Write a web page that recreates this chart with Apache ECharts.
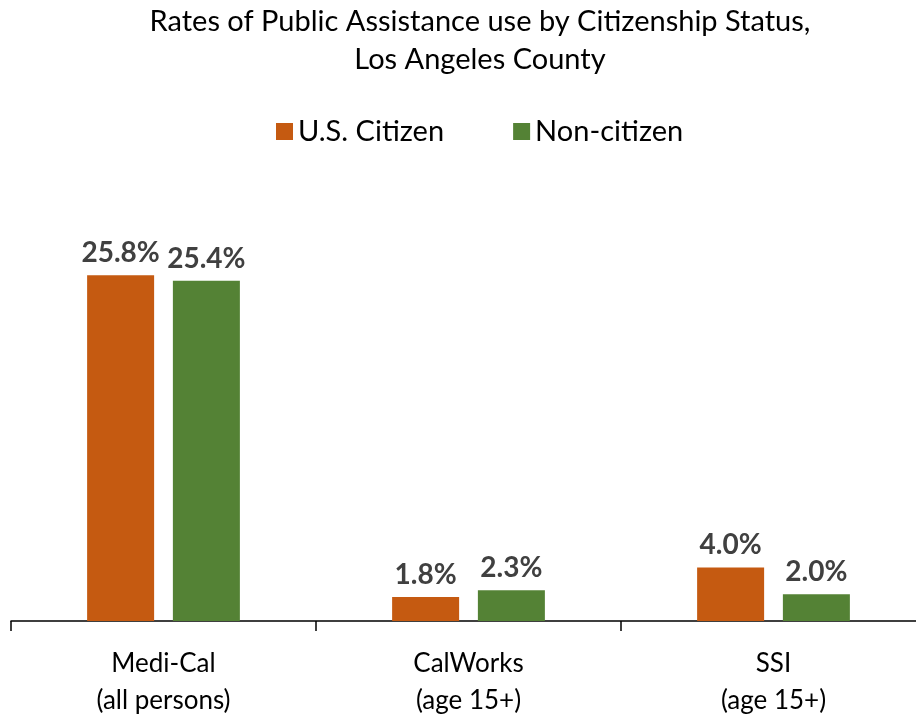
<!DOCTYPE html>
<html><head><meta charset="utf-8">
<script src="https://cdn.jsdelivr.net/npm/echarts@6/dist/echarts.min.js"></script>
<style>html,body{margin:0;padding:0;background:#fff}#c{width:916px;height:721px}</style>
</head><body><div id="c"></div>
<script>
const categories = ['Medi-Cal\n(all persons)', 'CalWorks\n(age 15+)', 'SSI\n(age 15+)'];
const citizen = [25.8, 1.8, 4.0];
const nonCitizen = [25.4, 2.3, 2.0];
const seriesNames = ['U.S. Citizen', 'Non-citizen'];
const FONT = 'Lato, "Open Sans", sans-serif';
const chart = echarts.init(document.getElementById('c'));
const label = {show:true, position:'top', distance:8, fontFamily:FONT, fontWeight:'bold', fontSize:28, color:'#404040', formatter: p => p.value.toFixed(1) + '%'};
chart.setOption({
  animation:false,
  title:{text:'Rates of Public Assistance use by Citizenship Status,\nLos Angeles County', left:475, textAlign:'center', top:-2,
    textStyle:{fontFamily:FONT, fontWeight:'normal', fontSize:29, color:'#000', lineHeight:38}},
  legend:{top:112, left:271, itemWidth:17, itemHeight:17, itemGap:69, icon:'rect',
    textStyle:{fontFamily:FONT, fontSize:29, color:'#000', padding:[0,0,0,0]}, data:seriesNames},
  grid:{left:11, width:915, top:219, height:402, containLabel:false, outerBoundsMode:'none'},
  xAxis:{type:'category', data:categories,
    axisLine:{lineStyle:{color:'#000', width:1.5}},
    axisTick:{show:true, length:10, lineStyle:{color:'#000', width:1.5}},
    axisLabel:{fontFamily:FONT, fontSize:26, color:'#000', lineHeight:37, margin:24}},
  yAxis:{type:'value', min:0, max:30, show:false, splitLine:{show:false}},
  series:[
    {name:seriesNames[0], type:'bar', data:citizen, barWidth:67, barGap:'28%', itemStyle:{color:'#C55A11'}, label},
    {name:seriesNames[1], type:'bar', data:nonCitizen, barWidth:67, barGap:'28%', itemStyle:{color:'#548235'}, label}
  ]
});
</script></body></html>
